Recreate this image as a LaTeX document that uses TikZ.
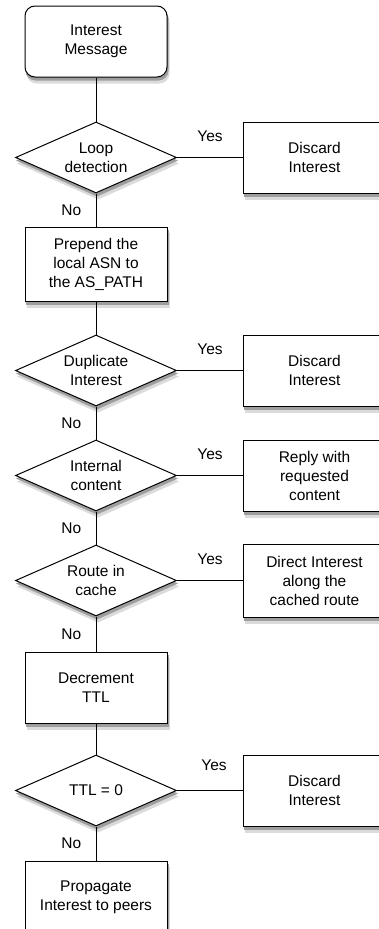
\documentclass[tikz,border=0pt]{standalone}
\usepackage{fontspec}
\setmainfont{Liberation Sans}
\usetikzlibrary{positioning,shapes.geometric,backgrounds}

\begin{document}
\begin{tikzpicture}[
  x=1pt, y=1pt,
  node distance=33pt and 66pt,
  font=\fontsize{15.5}{19}\selectfont,
  stepbox/.style={draw, line width=1pt, fill=white, align=center, minimum width=142pt, minimum height=71pt, inner sep=2pt},
  startbox/.style={stepbox, rounded corners=10pt},
  testbox/.style={diamond, draw, line width=1pt, fill=white, align=center, aspect=2.27, inner sep=0pt, minimum width=161pt, minimum height=71pt},
  link/.style={line width=1pt},
  yes/.style={midway, yshift=21pt},
  no/.style={midway, left=11pt},
  soft/.style={fill=black!14},
  hard/.style={fill=black!38}
]
  \useasboundingbox (0,0) rectangle (379,-929);

  % Main column
  \node[startbox] (msg) at (96,-41.5) {Interest\\Message};
  \node[testbox, below=44pt of msg] (loop) {Loop\\detection};
  \node[stepbox, minimum height=74pt, below=of loop] (prepend) {Prepend the\\local ASN to\\the AS\_PATH};
  \node[testbox, below=of prepend] (dup) {Duplicate\\Interest};
  \node[testbox, below=of dup] (internal) {Internal\\content};
  \node[testbox, below=of internal] (route) {Route in\\cache};
  \node[stepbox, below=35pt of route] (decr) {Decrement\\TTL};
  \node[testbox, below=31pt of decr] (ttl) {TTL = 0};
  \node[stepbox, minimum height=72pt, below=34pt of ttl] (peers) {Propagate\\Interest to peers};

  % Outcomes on the right
  \node[stepbox, right=of loop] (drop1) {Discard\\Interest};
  \node[stepbox, right=of dup] (drop2) {Discard\\Interest};
  \node[stepbox, right=of internal] (reply) {Reply with\\requested\\content};
  \node[stepbox, minimum height=73pt, right=of route] (direct) {Direct Interest\\along the\\cached route};
  \node[stepbox, right=of ttl] (drop3) {Discard\\Interest};

  \draw[link] (msg) -- (loop);
  \draw[link] (loop) -- node[yes] {Yes} (drop1);
  \draw[link] (loop) -- node[no] {No} (prepend);
  \draw[link] (prepend) -- (dup);
  \draw[link] (dup) -- node[yes] {Yes} (drop2);
  \draw[link] (dup) -- node[no] {No} (internal);
  \draw[link] (internal) -- node[yes] {Yes} (reply);
  \draw[link] (internal) -- node[no] {No} (route);
  \draw[link] (route) -- node[yes] {Yes} (direct);
  \draw[link] (route) -- node[no] {No} (decr);
  \draw[link] (decr) -- (ttl);
  \draw[link] (ttl) -- node[yes, xshift=4pt, yshift=4pt] {Yes} (drop3);
  \draw[link] (ttl) -- node[no] {No} (peers);

  % Soft shadows under every shape
  \begin{scope}[on background layer]
    \foreach \s/\dx/\dy in {soft/2/-6, hard/1/-3} {
      \fill[\s, rounded corners=10pt] ([shift={(\dx,\dy)}]msg.south west) rectangle ([shift={(\dx,\dy)}]msg.north east);
      \foreach \b in {prepend,decr,peers,drop1,drop2,reply,direct,drop3}
        \fill[\s] ([shift={(\dx,\dy)}]\b.south west) rectangle ([shift={(\dx,\dy)}]\b.north east);
      \foreach \d in {loop,dup,internal,route,ttl}
        \fill[\s] ([shift={(\dx,\dy)}]\d.west) -- ([shift={(\dx,\dy)}]\d.north) -- ([shift={(\dx,\dy)}]\d.east) -- ([shift={(\dx,\dy)}]\d.south) -- cycle;
    }
  \end{scope}
\end{tikzpicture}
\end{document}
